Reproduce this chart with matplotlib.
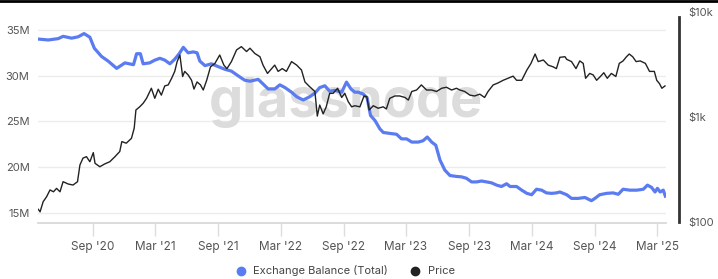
import pandas as pd
import matplotlib.pyplot as plt
from matplotlib.lines import Line2D
from matplotlib.ticker import FixedLocator, NullLocator

plt.rcParams['font.family'] = ['Inter', 'DejaVu Sans']

# Exchange balance (ETH, millions)
balance_dates = [
    '2020-03-26', '2020-04-24', '2020-05-23', '2020-06-06', '2020-07-01', '2020-07-20',
    '2020-08-06', '2020-08-23', '2020-09-05', '2020-09-26', '2020-10-15', '2020-11-09',
    '2020-12-03', '2020-12-28', '2021-01-06', '2021-01-17', '2021-01-25', '2021-02-13',
    '2021-02-28', '2021-03-15', '2021-03-29', '2021-04-13', '2021-04-27', '2021-05-10',
    '2021-05-22', '2021-06-05', '2021-06-20', '2021-07-01', '2021-07-09', '2021-07-24',
    '2021-08-12', '2021-08-31', '2021-09-20', '2021-10-09', '2021-10-28', '2021-11-17',
    '2021-12-02', '2021-12-26', '2022-01-09', '2022-01-24', '2022-02-12', '2022-02-27',
    '2022-03-14', '2022-04-02', '2022-04-17', '2022-05-06', '2022-05-25', '2022-06-09',
    '2022-06-23', '2022-07-08', '2022-07-22', '2022-08-06', '2022-08-26', '2022-09-09',
    '2022-09-22', '2022-10-03', '2022-10-13', '2022-10-27', '2022-11-08', '2022-11-18',
    '2022-12-01', '2022-12-15', '2022-12-25', '2023-01-13', '2023-02-02', '2023-02-16',
    '2023-03-03', '2023-03-18', '2023-04-06', '2023-04-20', '2023-05-02', '2023-05-15',
    '2023-05-27', '2023-06-08', '2023-06-22', '2023-07-07', '2023-07-26', '2023-08-10',
    '2023-08-24', '2023-09-08', '2023-09-23', '2023-10-07', '2023-10-22', '2023-11-05',
    '2023-11-20', '2023-12-04', '2023-12-19', '2023-12-29', '2024-01-17', '2024-02-01',
    '2024-02-16', '2024-03-01', '2024-03-15', '2024-03-30', '2024-04-13', '2024-04-28',
    '2024-05-12', '2024-05-22', '2024-06-11', '2024-06-25', '2024-07-14', '2024-08-03',
    '2024-08-22', '2024-09-01', '2024-09-15', '2024-10-05', '2024-10-24', '2024-11-08',
    '2024-11-22', '2024-12-12', '2025-01-01', '2025-01-20', '2025-02-01', '2025-02-13',
    '2025-02-23', '2025-03-02', '2025-03-10', '2025-03-19', '2025-03-25',
]
balance_m = [
    34.0, 33.9, 34.05, 34.3, 34.1, 34.25,
    34.6, 34.2, 33.0, 32.1, 31.6, 30.8,
    31.4, 31.2, 32.4, 32.4, 31.3, 31.4,
    31.7, 31.9, 31.7, 31.3, 31.8, 32.4,
    33.1, 32.5, 32.6, 32.5, 31.6, 31.1,
    31.3, 31.0, 30.7, 30.5, 30.0, 29.5,
    29.4, 29.6, 29.1, 28.55, 28.55, 29.0,
    28.7, 28.2, 27.7, 27.35, 27.7, 28.1,
    28.7, 28.9, 28.3, 28.4, 28.2, 29.3,
    28.55, 28.2, 28.2, 28.0, 27.6, 25.65,
    25.1, 24.2, 23.8, 23.7, 23.6, 23.1,
    23.1, 22.75, 22.75, 22.9, 23.3, 22.75,
    22.4, 20.8, 19.7, 19.1, 19.0, 18.95,
    18.8, 18.4, 18.4, 18.5, 18.4, 18.3,
    18.05, 17.9, 18.2, 17.9, 17.9, 17.5,
    17.15, 17.0, 17.6, 17.5, 17.2, 17.15,
    17.2, 17.3, 17.0, 16.6, 16.6, 16.7,
    16.35, 16.6, 17.0, 17.15, 17.2, 17.05,
    17.6, 17.5, 17.5, 17.6, 18.05, 17.8,
    17.3, 17.7, 17.3, 17.5, 16.85,
]

# Price (USD, log scale)
price_dates = [
    '2020-03-26', '2020-03-31', '2020-04-09', '2020-04-19', '2020-04-29', '2020-05-09',
    '2020-05-18', '2020-05-28', '2020-06-06', '2020-06-21', '2020-07-05', '2020-07-18',
    '2020-07-25', '2020-08-03', '2020-08-13', '2020-08-23', '2020-09-02', '2020-09-07',
    '2020-09-21', '2020-10-05', '2020-10-20', '2020-11-04', '2020-11-18', '2020-11-24',
    '2020-12-07', '2020-12-22', '2020-12-30', '2021-01-04', '2021-01-15', '2021-01-25',
    '2021-02-04', '2021-02-18', '2021-02-28', '2021-03-10', '2021-03-19', '2021-03-29',
    '2021-04-08', '2021-04-18', '2021-04-27', '2021-05-04', '2021-05-12', '2021-05-20',
    '2021-05-26', '2021-06-05', '2021-06-15', '2021-06-22', '2021-07-01', '2021-07-11',
    '2021-07-19', '2021-07-29', '2021-08-09', '2021-08-22', '2021-09-05', '2021-09-17',
    '2021-09-26', '2021-10-09', '2021-10-24', '2021-11-07', '2021-11-22', '2021-12-02',
    '2021-12-16', '2021-12-31', '2022-01-09', '2022-01-22', '2022-02-03', '2022-02-12',
    '2022-02-22', '2022-03-06', '2022-03-18', '2022-04-02', '2022-04-17', '2022-05-01',
    '2022-05-11', '2022-05-25', '2022-06-09', '2022-06-16', '2022-06-23', '2022-07-03',
    '2022-07-12', '2022-07-22', '2022-08-01', '2022-08-14', '2022-08-26', '2022-09-04',
    '2022-09-14', '2022-09-24', '2022-10-03', '2022-10-18', '2022-10-30', '2022-11-07',
    '2022-11-14', '2022-11-26', '2022-12-10', '2022-12-25', '2023-01-03', '2023-01-13',
    '2023-01-28', '2023-02-11', '2023-02-26', '2023-03-08', '2023-03-18', '2023-04-01',
    '2023-04-15', '2023-04-30', '2023-05-15', '2023-05-29', '2023-06-13', '2023-06-27',
    '2023-07-12', '2023-07-26', '2023-08-05', '2023-08-19', '2023-09-03', '2023-09-17',
    '2023-10-02', '2023-10-16', '2023-10-26', '2023-11-10', '2023-11-24', '2023-12-09',
    '2023-12-23', '2024-01-07', '2024-01-17', '2024-02-01', '2024-02-16', '2024-02-28',
    '2024-03-11', '2024-03-20', '2024-04-04', '2024-04-18', '2024-05-03', '2024-05-12',
    '2024-05-22', '2024-06-06', '2024-06-11', '2024-06-25', '2024-07-08', '2024-07-19',
    '2024-07-29', '2024-08-05', '2024-08-17', '2024-08-27', '2024-09-06', '2024-09-17',
    '2024-09-27', '2024-10-07', '2024-10-19', '2024-11-01', '2024-11-11', '2024-11-22',
    '2024-12-02', '2024-12-10', '2024-12-20', '2024-12-30', '2025-01-11', '2025-01-26',
    '2025-02-07', '2025-02-21', '2025-02-28', '2025-03-08', '2025-03-15', '2025-03-24',
]
price_usd = [
    132, 125, 156, 174, 202, 194,
    209, 194, 242, 230, 225, 242,
    349, 406, 419, 375, 458, 362,
    336, 357, 375, 419, 469, 583,
    563, 626, 781, 1166, 1250, 1350,
    1507, 1878, 1507, 1838, 1616, 1977,
    2021, 2338, 2718, 3370, 3895, 2430,
    2718, 2516, 2237, 1845, 2157, 2021,
    1807, 2237, 3000, 3240, 3895, 3120,
    2890, 3370, 4353, 4680, 4200, 4520,
    4030, 3750, 3120, 2600, 2890, 3120,
    2718, 2890, 2718, 3370, 3120, 2800,
    2157, 1940, 1750, 1020, 1300, 1070,
    1250, 1680, 1680, 1878, 1535, 1680,
    1400, 1250, 1280, 1250, 1586, 1560,
    1166, 1280, 1212, 1250, 1193, 1507,
    1586, 1586, 1535, 1450, 1750, 1807,
    2021, 1807, 1807, 1750, 1878, 1920,
    1807, 1878, 1807, 1750, 1616, 1586,
    1650, 1535, 1750, 2021, 2110, 2237,
    2338, 2450, 2237, 2237, 2800, 3240,
    3980, 3370, 3490, 3120, 3000, 2890,
    3700, 3750, 3540, 3370, 2890, 3420,
    3240, 2338, 2600, 2516, 2237, 2430,
    2640, 2338, 2600, 2430, 3240, 3420,
    3750, 3980, 3750, 3370, 3420, 3240,
    2718, 2718, 2237, 2080, 1878, 1977,
]

tick_dates = ['2020-09-01', '2021-03-01', '2021-09-01', '2022-03-01', '2022-09-01',
              '2023-03-01', '2023-09-01', '2024-03-01', '2024-09-01', '2025-03-01']
tick_labels = ["Sep '20", "Mar '21", "Sep '21", "Mar '22", "Sep '22",
               "Mar '23", "Sep '23", "Mar '24", "Sep '24", "Mar '25"]

blue = '#5b7cf0'
W, H = 718, 279
fig = plt.figure(figsize=(W / 100, H / 100), dpi=100)
ax = fig.add_axes([38 / W, 1 - 223 / H, (666 - 38) / W, (223 - 12) / H])
ax2 = ax.twinx()

# watermark, behind the lines
ax.text(346 / W, 1 - 103 / H, 'glassnode', fontsize=39, fontweight='bold',
        color='#dcdcdc', ha='center', va='center', transform=fig.transFigure,
        zorder=1)

bd = pd.to_datetime(balance_dates)
pdts = pd.to_datetime(price_dates)

ax.plot(bd, [b * 1e6 for b in balance_m], color=blue, lw=2.3, zorder=3)
ax2.plot(pdts, price_usd, color='#222222', lw=1.0, zorder=4)

ax.set_xlim(pd.Timestamp('2020-03-25'), pd.Timestamp('2025-03-27'))
ax.set_ylim(15e6 - 10 / 46 * 5e6, 35e6 + 18 / 46 * 5e6)
ax.yaxis.set_major_locator(FixedLocator([15e6, 20e6, 25e6, 30e6, 35e6]))
ax.set_yticklabels(['15M', '20M', '25M', '30M', '35M'])
ax.grid(axis='y', color='#ececec', lw=1)
ax.set_axisbelow(True)
ax.tick_params(axis='y', length=0, pad=6, labelsize=8, labelcolor='#555555')

ax.set_xticks(pd.to_datetime(tick_dates))
ax.set_xticklabels(tick_labels)
ax.tick_params(axis='x', length=9, width=1, color='#dddddd', pad=4,
               labelsize=8.5, labelcolor='#555555')

for s in ['top', 'left', 'right']:
    ax.spines[s].set_visible(False)
ax.spines['bottom'].set_color('#d5d5d5')
ax.spines['bottom'].set_linewidth(1.2)

ax2.set_yscale('log')
ax2.set_ylim(100 * 10 ** (-1 / 105), 10000)
ax2.yaxis.set_major_locator(FixedLocator([100, 1000, 10000]))
ax2.yaxis.set_minor_locator(NullLocator())
ax2.set_yticklabels(['$100', '$1k', '$10k'])
ax2.tick_params(axis='y', length=0, pad=7, labelsize=8, labelcolor='#555555')
for s in ['top', 'left', 'bottom']:
    ax2.spines[s].set_visible(False)
ax2.spines['right'].set_position(('outward', 9))
ax2.spines['right'].set_color('#333333')
ax2.spines['right'].set_linewidth(2)
ax2.spines['right'].set_bounds(100, 9000)

# top border
fig.add_artist(Line2D([0, 1], [1 - 1 / H, 1 - 1 / H], color='black', lw=2,
                      transform=fig.transFigure))

# legend
handles = [Line2D([], [], marker='o', ls='', color=blue, markersize=6),
           Line2D([], [], marker='o', ls='', color='#222222', markersize=6)]
fig.legend(handles, ['Exchange Balance (Total)', 'Price'], loc='center',
           bbox_to_anchor=(342 / W, 1 - 271 / H), ncol=2, frameon=False,
           fontsize=8, handletextpad=0.1, columnspacing=1.5,
           labelcolor='#444444')

fig.savefig('out.png', dpi=100)
